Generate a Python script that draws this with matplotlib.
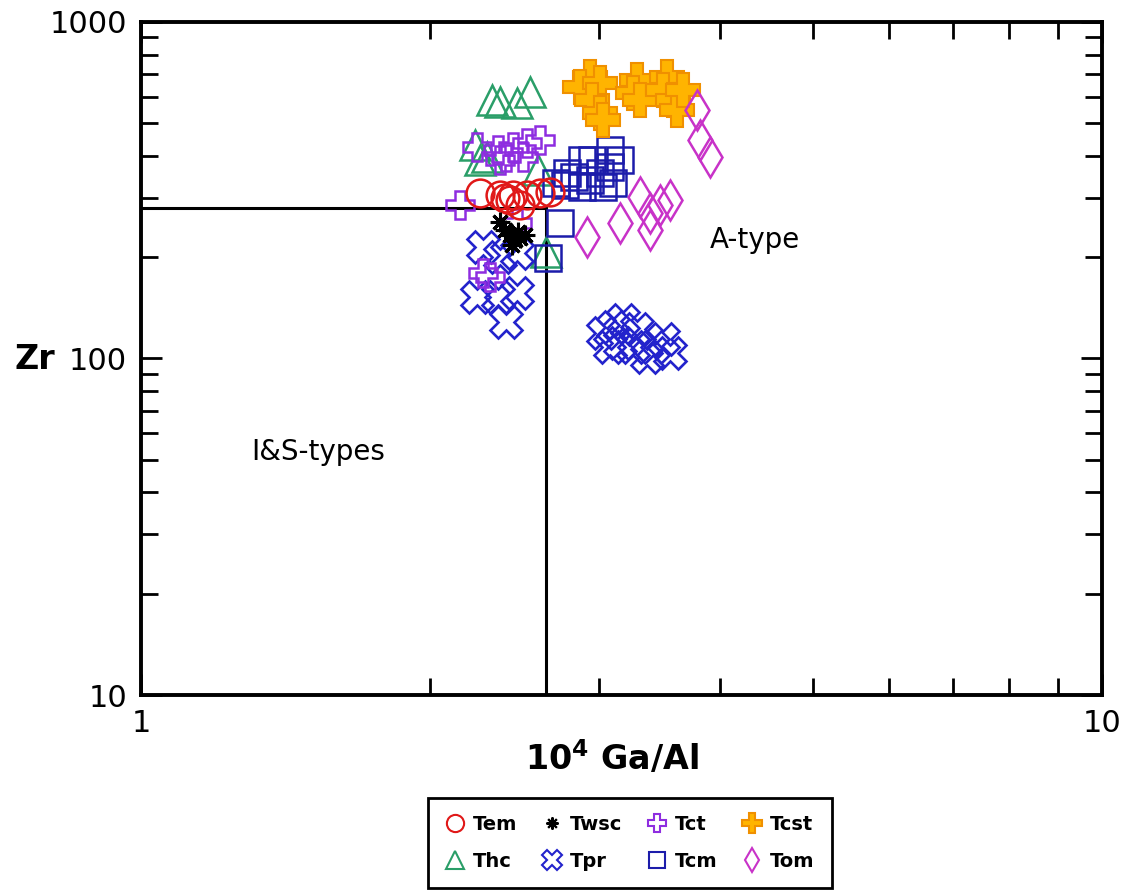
import matplotlib
matplotlib.use("Agg")
import matplotlib.pyplot as plt
from matplotlib.lines import Line2D
from matplotlib.ticker import LogLocator, NullFormatter, FixedLocator, FixedFormatter

plt.rcParams['font.family'] = ['DejaVu Sans']

# ---- data (10^4 Ga/Al, Zr) ----
tem_x = [2.254, 2.364, 2.44, 2.52, 2.602, 2.665, 2.421, 2.479, 2.39]
tem_y = [310, 306, 306, 306, 310, 313, 296, 286, 300]

thc_x = [2.318, 2.364, 2.46, 2.54, 2.227, 2.291, 2.254, 2.59, 2.64]
thc_y = [586, 579, 575, 620, 431, 397, 389, 363, 207]

twsc_x = [2.364, 2.421, 2.45, 2.479, 2.51, 2.43, 2.39, 2.467]
twsc_y = [254, 233, 225, 228, 233, 218, 241, 238]

tpr_x = [2.27, 2.364, 2.46, 2.238, 2.35, 2.46, 2.40,
         3.025, 3.10, 3.17, 3.28, 3.151, 3.076, 3.25, 3.41, 3.494, 3.552, 3.36]
tpr_y = [214, 200, 206, 152, 152, 157, 128,
         119, 124, 130, 122, 111, 108, 108, 108, 114, 104, 101]

tct_x = [2.238, 2.35, 2.44, 2.52, 2.602, 2.40, 2.5, 2.147, 2.27, 2.308, 2.46, 2.364]
tct_y = [425, 416, 425, 437, 446, 397, 397, 286, 180, 175, 253, 389]

tcm_x = [2.88, 2.95, 3.076, 3.151, 3.076, 3.003, 2.932, 2.82, 2.775, 3.10,
         3.025, 2.88, 2.729, 2.65, 2.70, 2.76]
tcm_y = [389, 389, 416, 389, 371, 356, 339, 346, 356, 332,
         323, 323, 253, 199, 332, 327]

tcst_x = [2.932, 2.862, 3.003, 2.95, 3.003, 3.025, 3.28, 3.25, 3.306, 3.523,
          3.494, 3.58, 3.61, 3.665]
tcst_y = [687, 641, 659, 586, 537, 512, 672, 615, 586, 687,
          628, 586, 548, 628]

tom_x = [3.789, 3.817, 3.909, 2.91, 3.151, 3.306, 3.386, 3.386, 3.552, 3.469]
tom_y = [548, 446, 397, 230, 253, 302, 271, 241, 296, 286]

# discrimination lines (Whalen et al.)
ga_al_limit = 2.64
zr_limit = 280

styles = {
    'Tem':  dict(marker='o', ms=20, mfc='none', mec='#e01818', mew=1.8),
    'Thc':  dict(marker='^', ms=21, mfc='none', mec='#2a9e68', mew=1.8),
    'Twsc': dict(marker=(8, 2, 0), ms=14, mfc='none', mec='black', mew=2.2),
    'Tpr':  dict(marker='X', ms=23, mfc='none', mec='#2323cc', mew=1.9),
    'Tct':  dict(marker='P', ms=20, mfc='none', mec='#8e2de0', mew=1.8),
    'Tcm':  dict(marker='s', ms=19, mfc='none', mec='#1c1caa', mew=1.8),
    'Tcst': dict(marker='P', ms=24, mfc='#ffb400', mec='#f09000', mew=1.5),
    'Tom':  dict(marker='d', ms=20, mfc='none', mec='#c832c8', mew=1.8),
}

fig = plt.figure(figsize=(11.21, 8.90), dpi=100)
ax = fig.add_axes([0.1258, 0.2191, 0.8572, 0.7562])
ax.set_xscale('log')
ax.set_yscale('log')
ax.set_xlim(1, 10)
ax.set_ylim(10, 1000)

ax.plot([1, ga_al_limit], [zr_limit, zr_limit], color='black', lw=2.2, zorder=1)
ax.plot([ga_al_limit, ga_al_limit], [10, zr_limit], color='black', lw=2.2, zorder=1)

series = [('Thc', thc_x, thc_y, 4), ('Tpr', tpr_x, tpr_y, 4), ('Tct', tct_x, tct_y, 4),
          ('Tcm', tcm_x, tcm_y, 4), ('Tcst', tcst_x, tcst_y, 4), ('Tom', tom_x, tom_y, 4),
          ('Tem', tem_x, tem_y, 5), ('Twsc', twsc_x, twsc_y, 6)]
for name, xs, ys, z in series:
    ax.plot(xs, ys, ls='none', zorder=z, **styles[name])

for s in ax.spines.values():
    s.set_linewidth(2.8)

ax.xaxis.set_major_locator(FixedLocator([1, 10]))
ax.xaxis.set_major_formatter(FixedFormatter(['1', '10']))
ax.xaxis.set_minor_locator(LogLocator(base=10, subs=range(2, 10)))
ax.xaxis.set_minor_formatter(NullFormatter())
ax.yaxis.set_major_locator(FixedLocator([10, 100, 1000]))
ax.yaxis.set_major_formatter(FixedFormatter(['10', '100', '1000']))
ax.yaxis.set_minor_locator(LogLocator(base=10, subs=range(2, 10)))
ax.yaxis.set_minor_formatter(NullFormatter())
ax.tick_params(which='both', direction='in', top=True, right=True, width=2.0)
ax.tick_params(which='major', length=15, labelsize=22, pad=10)
ax.tick_params(which='minor', length=12)

ax.text(4.35, 225, 'A-type', fontsize=20, ha='center', va='center')
ax.text(1.528, 52.7, 'I&S-types', fontsize=20, ha='center', va='center')

fig.text(0.031, 0.596, 'Zr', fontsize=24, fontweight='bold', ha='center', va='center')
fig.text(0.546, 0.148, r'$\mathbf{10^{4}}$ Ga/Al', fontsize=24, fontweight='bold', ha='center', va='center')

# legend proxies (column-major order for 4 columns)
order = ['Tem', 'Thc', 'Twsc', 'Tpr', 'Tct', 'Tcm', 'Tcst', 'Tom']
handles = []
for name in order:
    st = dict(styles[name])
    st['ms'] = st['ms'] * 0.62
    st['mew'] = 1.5
    handles.append(Line2D([], [], ls='none', label=name, **st))
leg = fig.legend(handles=handles, loc='center', bbox_to_anchor=(0.562, 0.053), ncol=4,
                 prop={'weight': 'bold', 'size': 14}, frameon=True, framealpha=1,
                 fancybox=False, edgecolor='black', handlelength=1.0, handletextpad=0.4,
                 columnspacing=1.3, borderpad=0.9, labelspacing=0.9)
leg.get_frame().set_linewidth(2.0)

fig.savefig('out.png', dpi=100)
